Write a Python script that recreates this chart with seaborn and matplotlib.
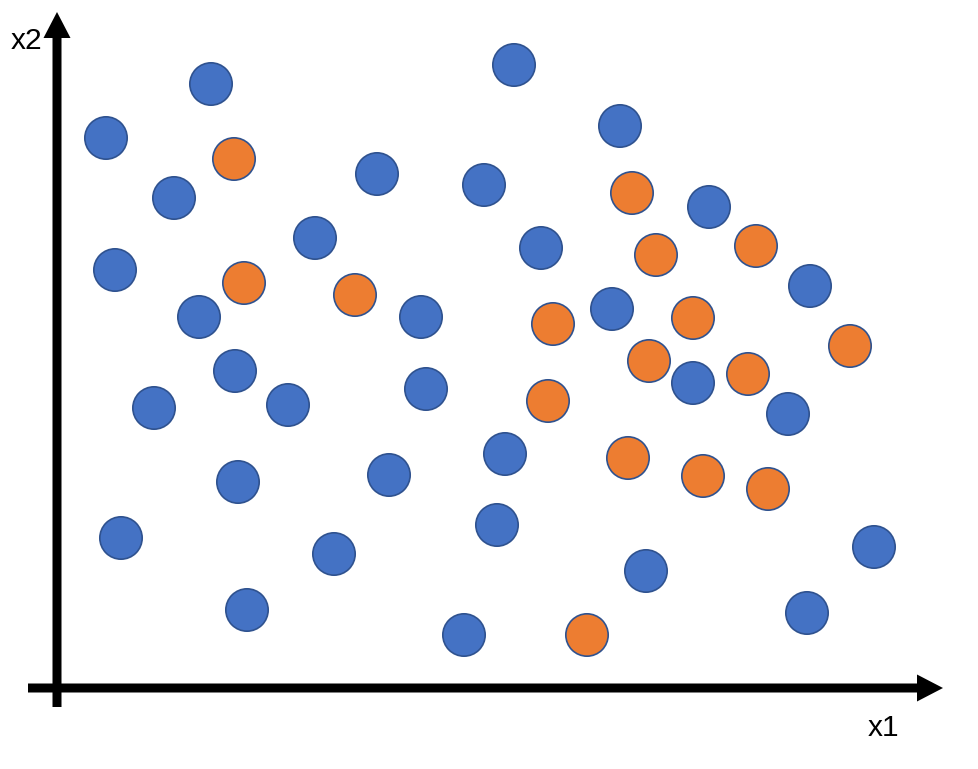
import matplotlib
matplotlib.use("Agg")
import matplotlib.pyplot as plt
import seaborn as sns
import pandas as pd

# positions (x1 to the right, x2 upward, origin at the axis crossing)
blue_x1 = [154, 49, 117, 58, 142, 178, 97, 231, 181, 64, 190, 277, 332, 369, 364, 258,
           320, 427, 457, 563, 484, 555, 652, 753, 636, 731, 448, 440, 407, 589, 750, 817]
blue_x2 = [604, 550, 490, 418, 371, 317, 280, 283, 206, 150, 78, 134, 213, 299, 371, 450,
           514, 503, 623, 562, 440, 379, 481, 402, 305, 274, 234, 163, 53, 117, 75, 141]
orange_x1 = [177, 187, 298, 496, 491, 575, 599, 699, 636, 592, 691, 793, 571, 646, 711, 530]
orange_x2 = [529, 405, 393, 364, 287, 495, 433, 442, 370, 327, 314, 342, 230, 212, 199, 53]

df = pd.DataFrame({
    "x1": blue_x1 + orange_x1,
    "x2": blue_x2 + orange_x2,
    "cls": ["blue"] * len(blue_x1) + ["orange"] * len(orange_x1),
})

sns.set_style("white")
plt.rcParams["font.family"] = ["Liberation Sans", "DejaVu Sans"]

fig = plt.figure(figsize=(9.79, 7.69), dpi=100)
ax = fig.add_axes([0, 0, 1, 1])

sns.scatterplot(data=df, x="x1", y="x2", hue="cls",
                palette={"blue": "#4472C4", "orange": "#ED7D31"},
                s=930, edgecolor="#2F528F", linewidth=1.2, legend=False,
                ax=ax, zorder=3)

# axes drawn as arrows
ax.arrow(0, -19, 0, 695, width=9, head_width=27, head_length=26,
         length_includes_head=True, color="black", linewidth=0)
ax.arrow(-29, 0, 915, 0, width=9, head_width=27, head_length=26,
         length_includes_head=True, color="black", linewidth=0)

ax.text(-31, 647, "x2", fontsize=21.5, color="black", ha="center", va="center")
ax.text(826, -40, "x1", fontsize=21.5, color="black", ha="center", va="center")

ax.set_xlim(-57, 922)
ax.set_ylim(-81, 688)
ax.axis("off")

fig.savefig("out.png", dpi=100)
